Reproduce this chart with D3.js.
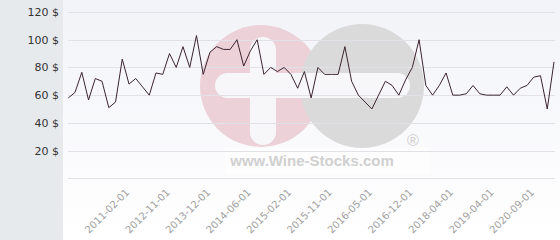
<!DOCTYPE html>
<html>
<head>
<meta charset="utf-8">
<script src="https://cdn.jsdelivr.net/npm/d3@7"></script>
<style>
  body { margin: 0; background: #fff; }
  svg { display: block; font-family: "DejaVu Sans", sans-serif; }
</style>
</head>
<body>
<svg id="chart" width="560" height="240"></svg>
<script>
// price series, one value per month listed
var prices = [58, 62, 76.5, 56.5, 72, 70, 51, 55, 86, 68,
  72, 66, 60, 76, 75, 90, 80, 95, 80, 103,
  75, 91, 95, 93, 93, 100, 81, 92, 100, 75,
  80, 77, 80, 75, 65, 77, 58, 80, 75, 75,
  75, 95, 70, 60, 55, 50, 60, 70, 67, 60,
  71, 80, 100, 67, 60, 67, 76, 60, 60, 61,
  67, 61, 60, 60, 60, 66, 60, 65, 67, 73,
  74, 50, 84];

// x labels shown, and the point they sit under
var tickLabels = ['2011-02-01', '2012-11-01', '2013-12-01', '2014-06-01', '2015-02-01',
  '2015-11-01', '2016-05-01', '2016-12-01', '2018-04-01', '2019-04-01', '2020-09-01'];
var tickIndex = [9, 15, 21, 27, 33, 39, 45, 51, 57, 63, 69];

var yTicks = [0, 20, 40, 60, 80, 100, 120];

var width = 560, height = 240;
var svg = d3.select('#chart');

var defs = svg.append('defs');
var grad = defs.append('linearGradient')
  .attr('id', 'bg').attr('x1', 0).attr('y1', 0).attr('x2', 0).attr('y2', 1);
grad.append('stop').attr('offset', '0%').attr('stop-color', '#f2f3f8');
grad.append('stop').attr('offset', '100%').attr('stop-color', '#ffffff');

// panels
svg.append('rect').attr('x', 0).attr('y', 0).attr('width', 63).attr('height', height)
  .attr('fill', '#e6eaed');
svg.append('rect').attr('x', 63).attr('y', 0).attr('width', width - 63).attr('height', height)
  .attr('fill', 'url(#bg)');

var x = d3.scalePoint()
  .domain(d3.range(prices.length))
  .range([68.3, 554]);

var y = d3.scaleLinear()
  .domain([0, 120])
  .range([178.3, 12]);

// watermark logo
var wm = svg.append('g').attr('class', 'watermark');
wm.append('rect').attr('x', 225).attr('y', 148).attr('width', 205).attr('height', 26)
  .attr('fill', '#ffffff').attr('opacity', 0.6);
wm.append('circle').attr('cx', 261).attr('cy', 86).attr('r', 61).attr('fill', '#ecd2d8');
wm.append('circle').attr('cx', 362).attr('cy', 86).attr('r', 62).attr('fill', '#dadada');
wm.append('rect').attr('x', 215).attr('y', 73).attr('width', 195).attr('height', 25)
  .attr('rx', 12.5).attr('fill', '#f7f7fa');
wm.append('rect').attr('x', 250).attr('y', 37).attr('width', 26).attr('height', 108)
  .attr('rx', 13).attr('fill', '#f7f7fa');
wm.append('text').attr('x', 413).attr('y', 146).attr('text-anchor', 'middle')
  .attr('font-family', 'Liberation Sans, Arial, sans-serif').attr('font-size', 16)
  .attr('fill', '#cfcfcf').text('\u00ae');
wm.append('text').attr('x', 312).attr('y', 166).attr('text-anchor', 'middle')
  .attr('font-family', 'Liberation Sans, Arial, sans-serif').attr('font-weight', 'bold')
  .attr('font-size', 15).attr('fill', '#d0d0d0').text('www.Wine-Stocks.com');

// grid
svg.append('g').selectAll('line')
  .data(yTicks)
  .join('line')
  .attr('x1', 68).attr('x2', 555)
  .attr('y1', function (d) { return Math.round(y(d)) + 0.5; })
  .attr('y2', function (d) { return Math.round(y(d)) + 0.5; })
  .attr('stroke', '#e1e1e7').attr('stroke-width', 1);

// y labels
svg.append('g').selectAll('text')
  .data(yTicks.filter(function (d) { return d > 0; }))
  .join('text')
  .attr('x', 59)
  .attr('y', function (d) { return y(d) + 4; })
  .attr('text-anchor', 'end')
  .attr('font-size', 11)
  .attr('fill', '#333')
  .text(function (d) { return d + ' $'; });

// x labels
svg.append('g').selectAll('text')
  .data(tickIndex)
  .join('text')
  .attr('transform', function (d) { return 'translate(' + (x(d) + 1) + ',193) rotate(-45)'; })
  .attr('text-anchor', 'end')
  .attr('font-size', 10)
  .attr('fill', '#a0a0a0')
  .text(function (d, i) { return tickLabels[i]; });

// price line
var line = d3.line()
  .x(function (d, i) { return x(i); })
  .y(function (d) { return y(d); });

svg.append('path')
  .datum(prices)
  .attr('d', line)
  .attr('fill', 'none')
  .attr('stroke', '#3b2430')
  .attr('stroke-width', 1);
</script>
</body>
</html>
